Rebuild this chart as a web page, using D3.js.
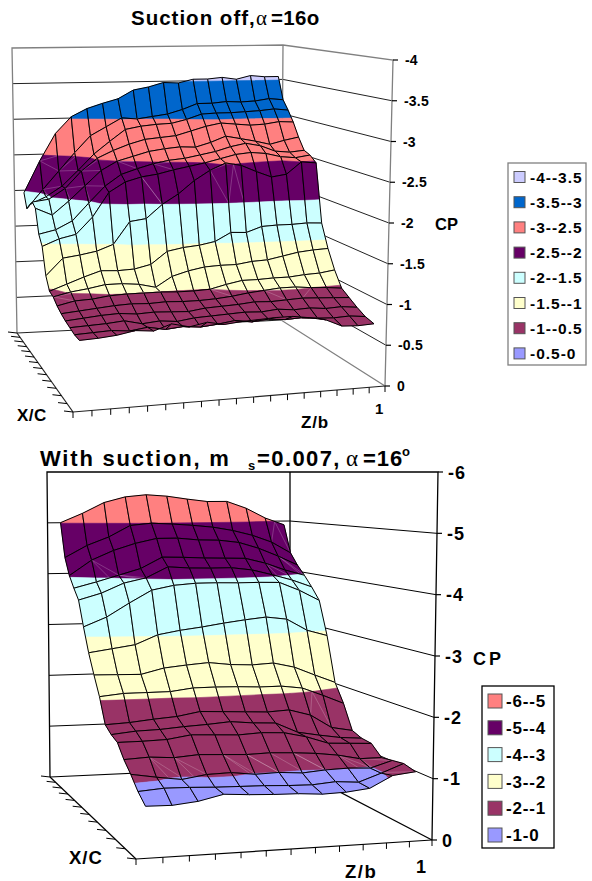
<!DOCTYPE html>
<html>
<head>
<meta charset="utf-8">
<script src="https://cdn.jsdelivr.net/npm/d3@7"></script>
<style>
  body { margin: 0; background: #fff; }
  text { font-family: "Liberation Sans", Arial, sans-serif; font-weight: bold; fill: #000; }
</style>
</head>
<body>
<div id="chart"></div>
<script>
// legend labels, band colours and the low end of each band
const legendOff = ["-4--3.5", "-3.5--3", "-3--2.5", "-2.5--2", "-2--1.5", "-1.5--1", "-1--0.5", "-0.5-0"];
const bandColOff = ["#CCCCFF", "#0066CC", "#FF8080", "#660066", "#CCFFFF", "#FFFFCC", "#993366", "#9999FF"];
const bandLowOff = [-4, -3.5, -3, -2.5, -2, -1.5, -1, -0.5];
const legendOn = ["-6--5", "-5--4", "-4--3", "-3--2", "-2--1", "-1-0"];
const bandColOn = ["#FF8080", "#660066", "#CCFFFF", "#FFFFCC", "#993366", "#9999FF"];
const bandLowOn = [-6, -5, -4, -3, -2, -1];
const cpTicksOff = [0, -0.5, -1, -1.5, -2, -2.5, -3, -3.5, -4];
const cpTicksOn = [0, -1, -2, -3, -4, -5, -6];
const xTickCountOff = d3.range(14);
const zTickCountOff = d3.range(19);
const xTickCountOn = d3.range(12);
const zTickCountOn = d3.range(13);

// CP, one row per X/C station (back to front), one value per Z/b station
const cpOff = [
  [-1.98,-2.42,-2.80,-3.03,-3.14,-3.21,-3.27,-3.39,-3.43,-3.49,-3.48,-3.53,-3.53,-3.55,-3.52,-3.57,-3.55,-3.55],
  [-1.79,-2.05,-2.30,-2.55,-2.78,-2.90,-3.02,-3.00,-3.03,-3.06,-3.12,-3.20,-3.20,-3.22,-3.21,-3.22,-3.25,-3.23],
  [-1.88,-1.98,-2.12,-2.33,-2.55,-2.72,-2.88,-2.92,-2.94,-2.95,-3.00,-3.07,-3.08,-3.08,-3.09,-3.10,-3.12,-3.10],
  [-1.95,-1.98,-2.12,-2.35,-2.52,-2.62,-2.70,-2.76,-2.78,-2.80,-2.86,-2.92,-2.96,-2.94,-2.92,-2.93,-2.96,-2.95],
  [-1.90,-1.80,-1.98,-2.18,-2.38,-2.50,-2.56,-2.62,-2.65,-2.67,-2.66,-2.72,-2.80,-2.76,-2.72,-2.67,-2.72,-2.76],
  [-1.59,-1.64,-1.75,-1.98,-2.20,-2.35,-2.42,-2.48,-2.52,-2.54,-2.58,-2.62,-2.68,-2.72,-2.68,-2.60,-2.58,-2.60],
  [-1.47,-1.56,-1.61,-1.83,-2.15,-2.28,-2.34,-2.37,-2.42,-2.46,-2.50,-2.55,-2.60,-2.62,-2.60,-2.55,-2.53,-2.56],
  [-1.13,-1.35,-1.38,-1.42,-1.50,-1.79,-1.82,-2.00,-2.13,-2.30,-2.43,-2.52,-2.48,-2.39,-2.31,-2.34,-2.50,-2.48],
  [-0.98,-1.06,-1.14,-1.21,-1.20,-1.21,-1.26,-1.42,-1.46,-1.48,-1.52,-1.63,-1.62,-1.69,-1.70,-1.70,-1.71,-1.70],
  [-0.96,-1.01,-1.04,-1.08,-1.08,-1.06,-1.01,-1.14,-1.20,-1.24,-1.25,-1.25,-1.28,-1.29,-1.33,-1.37,-1.39,-1.40],
  [-0.90,-0.95,-0.96,-0.99,-1.00,-1.00,-1.00,-0.99,-0.99,-1.00,-1.05,-1.09,-1.09,-1.10,-1.10,-1.12,-1.13,-1.16],
  [-0.86,-0.88,-0.90,-0.92,-0.93,-0.92,-0.93,-0.92,-0.92,-0.93,-0.95,-0.98,-1.00,-1.02,-1.02,-1.00,-0.99,-0.97],
  [-0.83,-0.85,-0.87,-0.88,-0.86,-0.87,-0.86,-0.85,-0.88,-0.89,-0.90,-0.92,-0.91,-0.92,-0.93,-0.92,-0.91,-0.90],
  [-0.81,-0.82,-0.83,-0.85,-0.80,-0.82,-0.80,-0.83,-0.84,-0.85,-0.86,-0.85,-0.87,-0.85,-0.86,-0.84,-0.85,-0.83],
  [-0.79,-0.80,-0.81,-0.79,-0.82,-0.78,-0.80,-0.78,-0.80,-0.83,-0.80,-0.82,-0.80,-0.81,-0.79,-0.78,-0.79,-0.77],
  [-0.79,-0.80,-0.82,-0.86,-0.84,-0.91,-0.86,-0.90,-0.86,-0.88,-0.89,-0.90,-0.90,-0.87,-0.83,-0.74,-0.73,-0.74]
];
const cpOn = [
  [-5.01,-5.19,-5.40,-5.51,-5.55,-5.52,-5.46,-5.41,-5.41,-5.27,-5.07,-4.93],
  [-4.35,-4.58,-4.74,-4.96,-5.00,-4.98,-4.95,-4.91,-4.84,-4.74,-4.60,-4.38],
  [-4.03,-4.32,-4.50,-4.63,-4.72,-4.72,-4.68,-4.67,-4.62,-4.50,-4.34,-4.16],
  [-3.82,-3.93,-4.05,-4.17,-4.38,-4.37,-4.35,-4.34,-4.33,-4.23,-4.09,-3.98],
  [-3.63,-3.75,-3.93,-4.02,-4.22,-4.19,-4.18,-4.18,-4.13,-4.03,-3.92,-3.78],
  [-3.17,-3.34,-3.59,-3.82,-3.90,-3.93,-3.93,-3.92,-3.92,-3.91,-3.75,-3.55],
  [-2.74,-2.80,-2.86,-3.03,-3.10,-3.15,-3.21,-3.26,-3.30,-3.25,-3.03,-2.92],
  [-2.39,-2.38,-2.37,-2.47,-2.51,-2.54,-2.49,-2.47,-2.49,-2.40,-2.24,-2.09],
  [-2.06,-2.10,-2.10,-2.10,-2.15,-2.15,-2.14,-2.12,-2.12,-2.07,-1.92,-1.76],
  [-1.63,-1.65,-1.69,-1.72,-1.79,-1.77,-1.75,-1.73,-1.75,-1.64,-1.40,-1.33],
  [-1.53,-1.57,-1.58,-1.61,-1.63,-1.66,-1.62,-1.60,-1.42,-1.35,-1.29,-1.26],
  [-1.47,-1.47,-1.48,-1.54,-1.52,-1.50,-1.52,-1.50,-1.41,-1.28,-1.26,-1.24],
  [-1.26,-1.28,-1.25,-1.28,-1.26,-1.24,-1.25,-1.23,-1.20,-1.15,-1.07,-1.07],
  [-1.10,-1.03,-0.97,-1.03,-1.04,-0.99,-1.00,-0.97,-1.00,-1.01,-0.99,-1.10],
  [-0.91,-0.94,-0.93,-0.91,-0.90,-0.89,-0.87,-0.86,-0.89,-0.86,-0.99,-1.13],
  [-0.77,-0.76,-0.80,-0.89,-0.86,-0.84,-0.83,-0.80,-0.81,-0.85,-1.04,-1.08]
];

var svg = d3.select("#chart").append("svg")
  .attr("width", 592).attr("height", 881)
  .style("display", "block");

// perspective warp of a 0..1 coordinate, a<1 squeezes the far end
function warp(s, a) {
  return (s * a) / (s * a + 1 - s);
}

function drawChart(cfg) {
  var g = svg.append("g");
  var nRows = cfg.cp.length, nCols = cfg.cp[0].length;
  var zScale = d3.scaleBand().domain(d3.range(nCols)).range([0, 1]);
  var xScale = d3.scaleBand().domain(d3.range(nRows)).range([0, 1]);
  var cpScale = d3.scaleLinear().domain([0, cfg.cpMin]).range([0, 1]);
  var c = cfg.box;

  // u along Z/b, v along X/C (0 back, 1 front), h 0 floor 1 top
  function corner(u, v, h) {
    var tu = warp(u, 1.1), tv = warp(v, 0.7);
    function mix(a, b, t) { return a + (b - a) * t; }
    function lerp(k) {
      var floor = mix(mix(c.bl[k], c.br[k], tu), mix(c.fl[k], c.fr[k], tu), tv);
      var top = mix(mix(c.blt[k], c.brt[k], tu), mix(c.flt[k], c.frt[k], tu), tv);
      return mix(floor, top, h);
    }
    return [lerp(0), lerp(1)];
  }
  // i and j may be fractional after clipping, so step from the band centre
  function project(p) {
    var u = zScale(0) + (p.j + 0.5) * zScale.step();
    var v = xScale(0) + (p.i + 0.5) * xScale.step();
    return corner(u, v, cpScale(p.c));
  }
  var line = d3.line();

  // walls, floor and gridlines
  cfg.ticks.forEach(function (t) {
    var h = cpScale(t);
    if (t == 0 || t == cfg.cpMin) return;
    g.append("path").attr("fill", "none").attr("stroke", cfg.gridCol).attr("stroke-width", 1)
      .attr("d", line([corner(0, 0, h), corner(1, 0, h), corner(1, 1, h)]));
  });
  g.append("path").attr("fill", "none").attr("stroke", cfg.wallCol).attr("stroke-width", 1.3)
    .attr("d", line([corner(0, 0, 0), corner(0, 0, 1), corner(1, 0, 1), corner(1, 1, 1), corner(1, 1, 0)]));
  g.append("path").attr("fill", "none").attr("stroke", cfg.wallCol).attr("stroke-width", 1.3)
    .attr("d", line([corner(1, 0, 1), corner(1, 0, 0), corner(1, 1, 0)]));
  [[corner(0, 1, 0), corner(1, 1, 0)], [corner(0, 0, 0), corner(0, 1, 0)], [corner(0, 0, 0), corner(1, 0, 0)]]
    .forEach(function (seg) {
      g.append("path").attr("fill", "none").attr("stroke", cfg.gridCol).attr("stroke-width", 1.2)
        .attr("d", line(seg));
    });

  // surface, back rows first so that the front rows paint over them
  for (var i = 0; i < nRows - 1; i++) {
    for (var j = 0; j < nCols - 1; j++) {
      var quad = [
        { i: i, j: j, c: cfg.cp[i][j] },
        { i: i, j: j + 1, c: cfg.cp[i][j + 1] },
        { i: i + 1, j: j + 1, c: cfg.cp[i + 1][j + 1] },
        { i: i + 1, j: j, c: cfg.cp[i + 1][j] }
      ];
      cfg.bandLow.forEach(function (lo, b) {
        var piece = clipBand(clipBand(quad, lo, 1), lo + cfg.bandStep, -1);
        if (piece.length < 3) return;
        var pts = piece.map(project);
        g.append("path").attr("d", line(pts) + "Z")
          .attr("fill", cfg.bandCol[b]).attr("stroke", cfg.bandCol[b]).attr("stroke-width", 0.6);
        // excel triangulates the cut cells, the seams show up pale on the dark bands
        var dark = cfg.bandCol[b] == "#660066" || cfg.bandCol[b] == "#993366";
        if (piece.length != 4 && dark) {
          for (var k = 2; k < pts.length - 1; k++) {
            g.append("path").attr("d", line([pts[0], pts[k]]))
              .attr("stroke", "#fff").attr("stroke-opacity", 0.35).attr("stroke-width", 0.6);
          }
        }
      });
      g.append("path").attr("d", line(quad.map(project)) + "Z")
        .attr("fill", "none").attr("stroke", "#000").attr("stroke-width", 1);
    }
  }

  // CP axis
  cfg.ticks.forEach(function (t) {
    var p = corner(1, 1, cpScale(t));
    g.append("path").attr("stroke", "#000").attr("stroke-width", 1.2)
      .attr("d", line([p, [p[0] + 5, p[1]]]));
    g.append("text").attr("x", p[0] + cfg.tickDx).attr("y", p[1] + cfg.tickDy)
      .attr("font-size", cfg.tickSize).attr("letter-spacing", cfg.tickLs).text(t);
  });

  // floor ticks
  cfg.zTicks.forEach(function (d) {
    var p = corner(d / (cfg.zTicks.length - 1), 1, 0);
    g.append("path").attr("stroke", "#000").attr("d", line([p, [p[0], p[1] + 6]]));
  });
  cfg.xTicks.forEach(function (d) {
    var p = corner(0, d / (cfg.xTicks.length - 1), 0);
    g.append("path").attr("stroke", "#000").attr("d", line([p, [p[0] - 9, p[1] - 1]]));
  });

  // legend
  var lg = cfg.legend;
  g.append("rect").attr("x", lg.x).attr("y", lg.y).attr("width", lg.w).attr("height", lg.h)
    .attr("fill", "#fff").attr("stroke", lg.border).attr("stroke-width", 1.3);
  cfg.legendLabels.forEach(function (d, n) {
    var cy = lg.y0 + n * lg.step;
    g.append("rect").attr("x", lg.x + 6).attr("y", cy - lg.sw / 2).attr("width", lg.sw).attr("height", lg.sw)
      .attr("fill", cfg.bandCol[n]).attr("stroke", "#555").attr("stroke-width", 1);
    g.append("text").attr("x", lg.x + lg.tx).attr("y", cy + lg.size * 0.36)
      .attr("font-size", lg.size).attr("letter-spacing", lg.ls).text(d);
  });
}

// keep the part of a polygon above (sign 1) or below (sign -1) the level
function clipBand(poly, level, sign) {
  var out = [];
  poly.forEach(function (a, n) {
    var b = poly[(n + 1) % poly.length];
    var ina = sign * (a.c - level) >= 0, inb = sign * (b.c - level) >= 0;
    if (ina) out.push(a);
    if (ina != inb) {
      var t = (level - a.c) / (b.c - a.c);
      out.push({ i: a.i + (b.i - a.i) * t, j: a.j + (b.j - a.j) * t, c: level });
    }
  });
  return out;
}

drawChart({
  cp: cpOff, cpMin: -4, ticks: cpTicksOff, zTicks: zTickCountOff, xTicks: xTickCountOff,
  bandLow: bandLowOff, bandCol: bandColOff, bandStep: 0.5, legendLabels: legendOff,
  box: { bl: [17, 333], br: [281, 320], fl: [73, 412], fr: [385, 386],
         blt: [12, 48], brt: [283, 45], flt: [70, 68], frt: [393, 60] },
  wallCol: "#808080", gridCol: "#222", tickDx: 12, tickDy: 5, tickSize: 14, tickLs: 0.2,
  legend: { x: 508, y: 163, w: 78, h: 202, y0: 177, step: 25.2, sw: 11, tx: 22, size: 15.5, ls: 1, border: "#808080" }
});
drawChart({
  cp: cpOn, cpMin: -6, ticks: cpTicksOn, zTicks: zTickCountOn, xTicks: xTickCountOn,
  bandLow: bandLowOn, bandCol: bandColOn, bandStep: 1, legendLabels: legendOn,
  box: { bl: [50, 777], br: [290, 766], fl: [136, 859], fr: [432, 840],
         blt: [47, 472], brt: [290, 472], flt: [135, 479], frt: [438, 472] },
  wallCol: "#000", gridCol: "#000", tickDx: 10, tickDy: 6.5, tickSize: 18, tickLs: 1,
  legend: { x: 482, y: 686, w: 72, h: 162, y0: 701, step: 26.8, sw: 14, tx: 24, size: 17, ls: 0.8, border: "#000" }
});

// titles and axis names
function label(x, y, size, txt, spacing) {
  return svg.append("text").attr("x", x).attr("y", y).attr("font-size", size)
    .attr("letter-spacing", spacing || 0).text(txt);
}
function symbol(x, y, size, txt) {
  return label(x, y, size, txt).style("font-family", "'Liberation Serif', serif").style("font-weight", "normal");
}
label(131, 25, 20.5, "Suction off, ", 1);
symbol(256, 25, 21, "\u03b1");
label(271, 25, 20.5, "=16o", 0.3);
label(435, 230, 16.5, "CP");
label(17, 421, 17, "X/C", 0.5);
label(301, 428, 17, "Z/b", 0.8);
label(375, 414, 15, "1");

label(40, 466, 22, "With suction, m", 1.8);
label(248, 470, 13, "s");
label(257, 466, 22, "=0.007,", 1.4);
symbol(346, 466, 23, "\u03b1");
label(363, 466, 22, "=16", 1);
label(402, 456, 13, "o");
label(473, 665, 18, "CP", 3);
label(69, 864, 18.5, "X/C", 1);
label(345, 878, 18.5, "Z/b", 1.5);
label(416, 873, 18, "1");
</script>
</body>
</html>
